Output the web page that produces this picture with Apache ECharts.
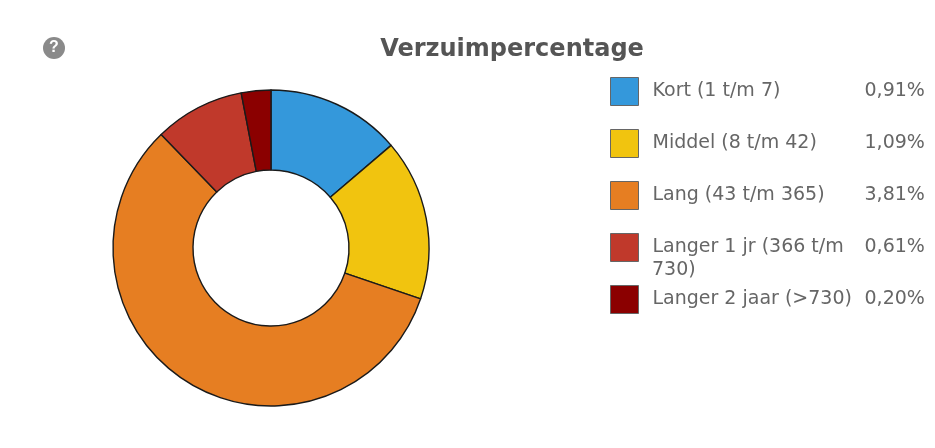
<!DOCTYPE html>
<html><head><meta charset="utf-8">
<script src="https://cdn.jsdelivr.net/npm/echarts@6/dist/echarts.min.js"></script>
<style>html,body{margin:0;background:#fff}#c{width:935px;height:448px;filter:blur(0.6px)}</style>
</head><body><div id="c"></div>
<script>
const categories = ['Kort (1 t/m 7)','Middel (8 t/m 42)','Lang (43 t/m 365)','Langer 1 jr (366 t/m','Langer 2 jaar (>730)'];
const values = [0.91,1.09,3.81,0.61,0.20];
const valueLabels = ['0,91%','1,09%','3,81%','0,61%','0,20%'];
const colors = ['#3498db','#f1c40f','#e67e22','#c0392b','#8b0000'];
const wrappedTail = '730)';
const titleText = 'Verzuimpercentage';

const chart = echarts.init(document.getElementById('c'), null, {renderer:'canvas'});
chart.setOption({
  animation:false,
  title:{text:titleText,left:512,top:38,textAlign:'center',padding:0,
    textStyle:{fontFamily:'DejaVu Sans',fontSize:24,fontWeight:'bold',color:'#555'}},
  legend:{
    orient:'vertical',left:610,top:77,padding:0,itemWidth:28,itemHeight:28,itemGap:23,
    selectedMode:false,icon:'rect',
    itemStyle:{borderColor:'#666',borderWidth:1},
    formatter:function(name){
      const i=categories.indexOf(name);
      return '{n|'+name+'}{v|'+valueLabels[i]+'}';
    },
    textStyle:{rich:{
      n:{fontFamily:'DejaVu Sans',fontSize:19,color:'#666',width:212,padding:[0,0,0,9]},
      v:{fontFamily:'DejaVu Sans',fontSize:19,color:'#666'}
    }}
  },
  graphic:[
    {type:'circle',shape:{cx:54,cy:48,r:11},style:{fill:'#8a8a8a'}},
    {type:'text',x:54,y:48,style:{text:'?',fontFamily:'Liberation Sans',fontSize:16,fontWeight:'bold',fill:'#fff',align:'center',verticalAlign:'middle'}},
    {type:'text',x:652,y:270,style:{text:wrappedTail,fontFamily:'DejaVu Sans',fontSize:19,fill:'#666',align:'left',verticalAlign:'middle'}}
  ],
  series:[{
    type:'pie',center:[271,248],radius:[78,158],startAngle:90,clockwise:true,silent:true,
    label:{show:false},labelLine:{show:false},
    itemStyle:{borderColor:'#1a1a1a',borderWidth:1.4},
    data:categories.map((c,i)=>({name:c,value:values[i],itemStyle:{color:colors[i]}}))
  }]
});
</script></body></html>
